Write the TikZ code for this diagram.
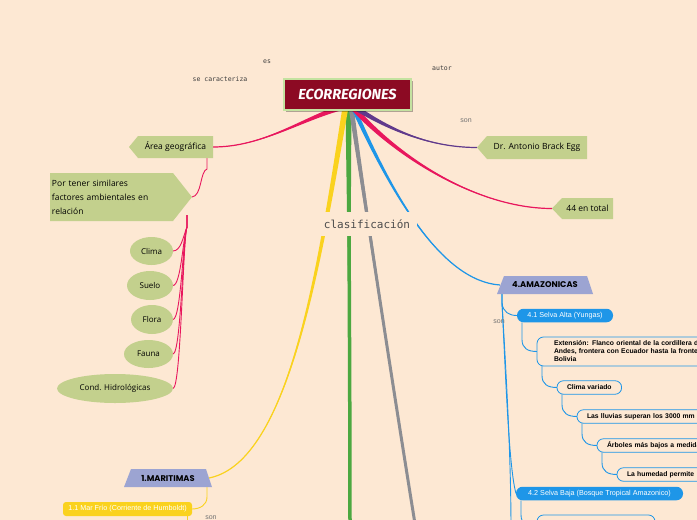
\documentclass[tikz,border=0pt]{standalone}
\usepackage{fontspec}
\setmainfont{Liberation Sans}
\newfontfamily\handf{Open Sans}
\newfontfamily\monof{DejaVu Sans Mono}
\newfontfamily\titlef{Fira Sans}
\newfontfamily\headf{Poppins}
\usetikzlibrary{calc,shadows,shapes.geometric}
\pgfdeclarelayer{bgl}\pgfdeclarelayer{edges}\pgfdeclarelayer{shapes}
\pgfsetlayers{bgl,edges,shapes,main}
\definecolor{bgc}{RGB}{253,232,211}
\definecolor{ecored}{RGB}{140,10,35}
\definecolor{ecoedge}{RGB}{196,226,160}
\definecolor{gfill}{RGB}{195,208,141}
\definecolor{pinkc}{RGB}{232,23,93}
\definecolor{purplec}{RGB}{96,58,140}
\definecolor{yellowc}{RGB}{250,210,30}
\definecolor{greenc}{RGB}{76,168,64}
\definecolor{grayc}{RGB}{140,141,146}
\definecolor{bluec}{RGB}{30,150,232}
\definecolor{lavc}{RGB}{156,164,210}
\definecolor{lblc}{RGB}{60,60,60}
\newcommand\taper[7]{%
  \fill[#1] ($#2+#6$) .. controls ($#3+0.5*#6$) and #4 .. #5 .. controls #4 and ($#3-0.5*#6$) .. ($#2-#6$) -- cycle;
  \draw[#1, line width=#7] #2 .. controls #3 and #4 .. #5;}
\newcommand\tedge[3]{%
  \path ($(#2.south west)+(5,0)$) coordinate (tA) (#3.west) coordinate (tB);
  \draw[#1] (tA) -- ($(tA |- tB)+(0,-12)$) .. controls ($(tA |- tB)+(0,-3)$) and ($(tB)+(-9,0)$) .. (tB);}
\tikzset{
  eco/.style={fill=ecored, draw=ecoedge, line width=1.2pt, minimum width=127pt, minimum height=31pt, inner sep=0pt, outer sep=0pt, text=white, font=\titlef\bfseries\itshape\fontsize{14.5}{14.5}\selectfont, drop shadow={shadow xshift=2pt, shadow yshift=-2pt, fill=black, opacity=0.3}},
  lbl/.style={text=lblc, font=\monof\fontsize{6.5}{7}\selectfont, inner sep=0pt},
  sonlbl/.style={text=black!55, font=\fontsize{7}{8}\selectfont, inner sep=0pt},
  clas/.style={text=black!70, fill=bgc, minimum width=100pt, minimum height=24pt, inner sep=0pt, font=\monof\fontsize{11}{12}\selectfont},
  gtext/.style={inner sep=0pt, outer sep=0pt, font=\handf\fontsize{8.5}{10}\selectfont},
  gell/.style={ellipse, fill=gfill, inner sep=0pt, outer sep=0pt, font=\handf\fontsize{8}{10}\selectfont},
  head/.style={inner sep=0pt, outer sep=0pt, minimum height=18pt, font=\headf\bfseries\fontsize{8.3}{9}\selectfont},
  pill/.style={fill=bluec, text=white, rounded corners=6.5pt, inner sep=0pt, outer sep=0pt, minimum height=13.5pt, font=\fontsize{7.2}{8}\selectfont},
  ybox/.style={fill=yellowc, text=white, rounded corners=3pt, inner sep=0pt, outer sep=0pt, minimum height=14pt, font=\fontsize{7.2}{8}\selectfont},
  obox/.style={draw=bluec, line width=0.8pt, fill=bgc, rounded corners=6.5pt, inner xsep=10pt, inner ysep=0pt, outer sep=0pt, minimum height=13.5pt, anchor=west, font=\bfseries\fontsize{6.8}{8}\selectfont, align=left},
  tline/.style={draw=bluec, line width=0.9pt},
  pline/.style={draw=pinkc, line width=0.9pt},
  yline/.style={draw=yellowc, line width=0.9pt},
}
\begin{document}
\begin{tikzpicture}[x=1pt,y=-1pt]
\useasboundingbox (0,0) rectangle (697,520);
\begin{pgfonlayer}{bgl}
\fill[bgc] (0,0) rectangle (697,520);
\end{pgfonlayer}

% central node and labels
\node[eco] (eco) at (347.5,94.5) {ECORREGIONES};
\node[lbl] (les) at (267,62) {es};
\node[lbl] (lse) at (220,79) {se caracteriza};
\node[lbl] (laut) at (442,68) {autor};
\node[sonlbl] (lson1) at (466,121) {son};
\node[clas] (clas) at (367,224) {clasificación};

% green nodes
\node[gtext, minimum width=75pt, minimum height=22pt] (area) at (175.5,147) {Área geográfica};
\node[gtext, minimum width=123pt, minimum height=48pt, text width=119pt, align=left, font=\handf\fontsize{8.5}{14}\selectfont] (por) at (111.5,197) {Por tener similares\\factores ambientales en\\relación};
\node[gell, minimum width=43pt, minimum height=28pt] (clima) at (151.5,251) {Clima};
\node[gell, minimum width=46pt, minimum height=29pt] (suelo) at (150,285.5) {Suelo};
\node[gell, minimum width=42pt, minimum height=29pt] (flora) at (152,319.5) {Flora};
\node[gell, minimum width=49pt, minimum height=28pt] (fauna) at (148.5,354) {Fauna};
\node[gell, minimum width=116pt, minimum height=29pt] (cond) at (115,388.5) {Cond. Hidrológicas};
\node[gtext, minimum width=100pt, minimum height=23pt] (dr) at (537,147.5) {Dr. Antonio Brack Egg};
\node[gtext, minimum width=51pt, minimum height=21pt] (total) at (587.5,208.5) {44 en total};

% headings
\node[head, minimum width=96pt] (amaz) at (545,285) {4.AMAZONICAS};
\node[head, minimum width=88pt] (mar) at (168,478) {1.MARITIMAS};

% pills and boxes
\node[pill, minimum width=96pt] (p41) at (565,315.5) {4.1 Selva Alta (Yungas)};
\node[pill, minimum width=167pt] (p42) at (599.5,493.5) {4.2 Selva Baja (Bosque Tropical Amazonico)};
\node[ybox, minimum width=129pt] (mf) at (127.5,509) {1.1 Mar Frío (Corriente de Humboldt)};
\node[sonlbl] (lson2) at (499,322) {son};
\node[sonlbl] (lson3) at (211,518) {son};
\node[obox, inner xsep=17pt, text width=200pt, minimum height=29pt] (ext) at (537,351.5) {Extensión: Flanco oriental de la cordillera de\\Andes, frontera con Ecuador hasta la frontera\\Bolivia};
\node[obox] (clv) at (557,387.5) {Clima variado};
\node[obox, text width=150pt] (llu) at (577,416.5) {Las lluvias superan los 3000 mm};
\node[obox, text width=130pt] (arb) at (597,445.5) {Árboles más bajos a medida};
\node[obox, text width=110pt] (hum) at (617,474.5) {La humedad permite};
\node[obox, minimum width=118pt, minimum height=24pt] (bbox) at (537,527) {};

% shapes layer: pentagons and trapezia
\begin{pgfonlayer}{shapes}
\fill[gfill] (area.north east) -- (area.south east) -- (area.south west) -- ($(area.west)+(-9,0)$) -- (area.north west) -- cycle;
\fill[gfill] (por.north west) -- (por.north east) -- ($(por.east)+(19,0)$) -- (por.south east) -- (por.south west) -- cycle;
\fill[gfill] (dr.north east) -- (dr.south east) -- (dr.south west) -- ($(dr.west)+(-10,0)$) -- (dr.north west) -- cycle;
\fill[gfill] (total.north east) -- (total.south east) -- (total.south west) -- ($(total.west)+(-10,0)$) -- (total.north west) -- cycle;
\fill[lavc] (amaz.south west) -- (amaz.south east) -- ($(amaz.north east)+(-6,0)$) -- ($(amaz.north west)+(7,0)$) -- cycle;
\fill[lavc] (mar.south west) -- (mar.south east) -- ($(mar.north east)+(-6,0)$) -- ($(mar.north west)+(7,0)$) -- cycle;
\end{pgfonlayer}

% connectors
\begin{pgfonlayer}{edges}
\coordinate (sp1) at ($(eco.south)+(-5,-3)$);
\coordinate (sy) at ($(eco.south)+(-2,-3)$);
\coordinate (sg) at ($(eco.south)+(1,-3)$);
\coordinate (sgr) at ($(eco.south)+(3.5,-3)$);
\coordinate (sb) at ($(eco.south)+(5.5,-3)$);
\coordinate (sp2) at ($(eco.south)+(5,-3)$);
\coordinate (spu) at ($(eco.south)+(7,-3)$);
\coordinate (gend) at (350,530);
\coordinate (grend) at (416,530);
\coordinate (mare) at ($(mar.east)+(-3,0)$);
\coordinate (amazw) at ($(amaz.west)+(3,0)$);
\coordinate (drtip) at ($(dr.west)+(-10,0)$);
\coordinate (totaltip) at ($(total.west)+(-10,0)$);
\coordinate (portip) at ($(por.east)+(19,0)$);

\taper{greenc}{(sg)}{(349,250)}{(350,400)}{(gend)}{(3,0)}{3.5pt}
\taper{grayc}{(sgr)}{(372,250)}{(395,400)}{(grend)}{(2.5,0)}{3pt}
\taper{yellowc}{(sy)}{(320,260)}{(290,462)}{(mare)}{(3,0)}{1.2pt}
\taper{bluec}{(sb)}{(390,190)}{(440,281)}{(amazw)}{(2.5,0)}{1.2pt}
\taper{pinkc}{(sp2)}{(400,160)}{(480,208.5)}{(totaltip)}{(2,-2)}{1.2pt}
\taper{purplec}{(spu)}{(390,130)}{(430,147.5)}{(drtip)}{(1.2,-2.4)}{1.2pt}
\taper{pinkc}{(sp1)}{(300,120)}{(262,147)}{(area.east)}{(0,3)}{1.2pt}

% pink thin
\draw[pline] ($(area.south east)+(-6,0)$) -- ++(0,11) .. controls +(-7,2) and ($(portip)+(10,-1)$) .. (portip);
\coordinate (ptr) at ($(por.east)+(14,18)$);
\foreach \e in {clima,suelo,flora,fauna,cond}
  \draw[pline] (ptr) -- ++(0,12) .. controls +(-4,10) and ($(\e.east)+(8,0)$) .. (\e.east);

% yellow thin
\coordinate (mb) at ($(mar.south east)+(-5,0)$);
\coordinate (mfend) at ($(mf.south east)+(-5,14)$);
\draw[yline] (mb) -- ++(0,10) .. controls +(0,8) and ($(mf.east)+(8,0)$) .. (mf.east);
\draw[yline] ($(mf.south east)+(-5,0)$) -- (mfend);

% blue tree
\coordinate (ab) at ($(amaz.south west)+(5,0)$);
\coordinate (ab2) at ($(ab)+(0,9)$);
\coordinate (bend) at (511,530);
\draw[tline] (ab) -- (ab2) .. controls ($(ab2)+(1,9)$) and ($(p41.west)+(-8,0)$) .. (p41.west);
\draw[tline] (ab) -- (ab2) .. controls ($(ab2)+(4,80)$) and ($(p42.west)+(-7,-25)$) .. (p42.west);
\draw[tline] (ab) -- (ab2) .. controls ($(ab2)+(6,100)$) and ($(bend)+(0,-60)$) .. (bend);
\tedge{tline}{p41}{ext}
\tedge{tline}{ext}{clv}
\tedge{tline}{clv}{llu}
\tedge{tline}{llu}{arb}
\tedge{tline}{arb}{hum}
\tedge{tline}{p42}{bbox}
\end{pgfonlayer}
\end{tikzpicture}
\end{document}
